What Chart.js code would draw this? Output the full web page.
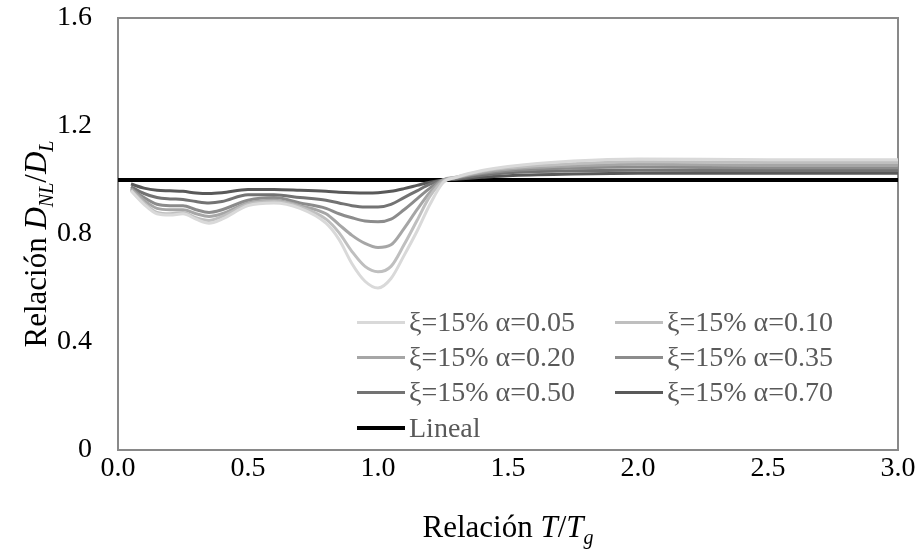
<!DOCTYPE html>
<html>
<head>
<meta charset="utf-8">
<script src="https://cdn.jsdelivr.net/npm/chart.js@4.4.1/dist/chart.umd.min.js"></script>
<style>
    html, body { margin: 0; padding: 0; background: #fff; }
    #wrap { position: relative; width: 924px; height: 556px; }
    #chart { position: absolute; left: 0; top: 0; }
    #legend { position: absolute; left: 0; top: 0; width: 924px; height: 556px; pointer-events: none;
              font-family: "Liberation Serif", "DejaVu Serif", serif; font-size: 28px; color: #595959; }
    .item { position: absolute; display: flex; align-items: center; white-space: nowrap; height: 34px; }
    .swatch { width: 48px; margin-right: 4px; }
</style>
</head>
<body>
<div id="wrap">
    <canvas id="chart" width="924" height="556"></canvas>
    <div id="legend"></div>
</div>
<script>
        // Data
        const periods = [0.05, 0.1, 0.15, 0.2, 0.25, 0.3, 0.35, 0.4, 0.5, 0.6, 0.7, 0.8, 0.85, 0.9, 0.95,
                         1.0, 1.05, 1.1, 1.15, 1.2, 1.25, 1.3, 1.4, 1.5, 1.75, 2.0, 2.5, 3.0];

        const alpha005 = [0.96, 0.91, 0.875, 0.87, 0.875, 0.855, 0.84, 0.855, 0.905, 0.915, 0.895, 0.84, 0.78, 0.69,
                          0.625, 0.60, 0.635, 0.72, 0.81, 0.91, 0.99, 1.01, 1.035, 1.05, 1.07, 1.078, 1.075, 1.075];
        const alpha010 = [0.962, 0.915, 0.88, 0.875, 0.88, 0.86, 0.85, 0.865, 0.91, 0.92, 0.90, 0.855, 0.805, 0.735,
                          0.68, 0.66, 0.68, 0.76, 0.85, 0.94, 0.995, 1.01, 1.032, 1.045, 1.06, 1.068, 1.065, 1.065];
        const alpha020 = [0.966, 0.925, 0.895, 0.89, 0.89, 0.875, 0.865, 0.875, 0.915, 0.925, 0.905, 0.875, 0.835, 0.795,
                          0.765, 0.75, 0.76, 0.82, 0.89, 0.955, 1.0, 1.01, 1.028, 1.04, 1.052, 1.058, 1.055, 1.055];
        const alpha035 = [0.97, 0.935, 0.91, 0.905, 0.905, 0.89, 0.88, 0.89, 0.925, 0.935, 0.915, 0.895, 0.875, 0.86,
                          0.848, 0.845, 0.855, 0.89, 0.93, 0.97, 1.0, 1.008, 1.024, 1.034, 1.044, 1.048, 1.045, 1.045];
        const alpha050 = [0.975, 0.95, 0.935, 0.93, 0.928, 0.92, 0.915, 0.92, 0.945, 0.945, 0.935, 0.925, 0.915, 0.905,
                          0.90, 0.90, 0.91, 0.935, 0.96, 0.985, 1.0, 1.005, 1.018, 1.027, 1.034, 1.036, 1.035, 1.035];
        const alpha070 = [0.985, 0.97, 0.962, 0.96, 0.958, 0.952, 0.95, 0.953, 0.965, 0.965, 0.962, 0.958, 0.955, 0.953,
                          0.952, 0.953, 0.958, 0.968, 0.98, 0.992, 1.0, 1.003, 1.01, 1.016, 1.022, 1.025, 1.025, 1.025];

        const linealX = [0, 3.0];
        const linealY = [1.0, 1.0];

        const seriesLabels = ['ξ=15% α=0.05', 'ξ=15% α=0.10', 'ξ=15% α=0.20',
                              'ξ=15% α=0.35', 'ξ=15% α=0.50', 'ξ=15% α=0.70', 'Lineal'];
        const seriesColors = ['#d9d9d9', '#bfbfbf', '#a6a6a6', '#8c8c8c', '#737373', '#595959', '#000000'];

        const xTickLabels = ['0.0', '0.5', '1.0', '1.5', '2.0', '2.5', '3.0'];
        const yTickLabels = ['0', '0.4', '0.8', '1.2', '1.6'];

        const FONT = '"Liberation Serif", "DejaVu Serif", serif';

        const toPoints = (xs, ys) => xs.map((x, i) => ({ x: x, y: ys[i] }));
        const seriesData = [alpha005, alpha010, alpha020, alpha035, alpha050, alpha070];

        const datasets = seriesData.map((ys, i) => ({
            label: seriesLabels[i],
            data: toPoints(periods, ys),
            borderColor: seriesColors[i],
            borderWidth: 3,
            pointRadius: 0,
            cubicInterpolationMode: 'monotone',
            fill: false
        }));
        datasets.push({
            label: seriesLabels[6],
            data: toPoints(linealX, linealY),
            borderColor: seriesColors[6],
            borderWidth: 4,
            pointRadius: 0,
            fill: false
        });

        // Draw text made of normal / italic / subscript pieces, centred on x
        function drawRich(ctx, parts, cx, baseline, size) {
            const fontFor = p => `${p.italic ? 'italic ' : ''}${p.sub ? Math.round(size * 0.65) : size}px ${FONT}`;
            let total = 0;
            parts.forEach(p => { ctx.font = fontFor(p); total += ctx.measureText(p.t).width; });
            let x = cx - total / 2;
            ctx.textAlign = 'left';
            ctx.textBaseline = 'alphabetic';
            parts.forEach(p => {
                ctx.font = fontFor(p);
                ctx.fillText(p.t, x, baseline + (p.sub ? size * 0.22 : 0));
                x += ctx.measureText(p.t).width;
            });
        }

        const framePlugin = {
            id: 'frame',
            beforeDatasetsDraw(chart) {
                const { ctx, chartArea: a } = chart;
                ctx.save();
                ctx.strokeStyle = '#898989';
                ctx.lineWidth = 2;
                ctx.strokeRect(a.left, a.top, a.right - a.left, a.bottom - a.top);
                ctx.restore();
            },
            afterDraw(chart) {
                const { ctx, chartArea: a } = chart;
                ctx.save();
                ctx.fillStyle = '#000';
                drawRich(ctx, [
                    { t: 'Relación ' }, { t: 'T', italic: true }, { t: '/' },
                    { t: 'T', italic: true }, { t: 'g', italic: true, sub: true }
                ], (a.left + a.right) / 2, 537, 31);
                ctx.translate(46, 244);
                ctx.rotate(-Math.PI / 2);
                drawRich(ctx, [
                    { t: 'Relación ' }, { t: 'D', italic: true }, { t: 'NL', italic: true, sub: true },
                    { t: '/' }, { t: 'D', italic: true }, { t: 'L', italic: true, sub: true }
                ], 0, 0, 31);
                ctx.restore();
            }
        };

        const ctx = document.getElementById('chart').getContext('2d');
        const chart = new Chart(ctx, {
            type: 'line',
            data: { datasets: datasets },
            options: {
                responsive: false,
                animation: false,
                layout: { padding: { top: 18, right: 26, left: 0, bottom: 0 } },
                plugins: {
                    legend: { display: false },
                    tooltip: { enabled: false }
                },
                scales: {
                    x: {
                        type: 'linear',
                        min: 0, max: 3,
                        afterFit: s => { s.height = 106; s.paddingLeft = 0; s.paddingRight = 0; },
                        grid: { display: false, drawTicks: false },
                        border: { display: false },
                        ticks: {
                            stepSize: 0.5,
                            padding: 2,
                            color: '#000',
                            font: { family: FONT, size: 28 },
                            callback: (v, i) => xTickLabels[i]
                        }
                    },
                    y: {
                        min: 0, max: 1.6,
                        afterFit: s => { s.width = 118; s.paddingTop = 0; s.paddingBottom = 0; },
                        grid: { display: false, drawTicks: false },
                        border: { display: false },
                        ticks: {
                            stepSize: 0.4,
                            padding: 26,
                            color: '#000',
                            font: { family: FONT, size: 28 },
                            callback: (v, i) => yTickLabels[i]
                        }
                    }
                }
            },
            plugins: [framePlugin]
        });

        // Legend inside the plot, two columns like the original
        const legend = document.getElementById('legend');
        const colX = [357, 615];
        const rowY = [322, 357, 392, 428];
        seriesLabels.forEach((label, i) => {
            const item = document.createElement('div');
            item.className = 'item';
            item.style.left = colX[i % 2] + 'px';
            item.style.top = (rowY[Math.floor(i / 2)] - 17) + 'px';
            const sw = document.createElement('span');
            sw.className = 'swatch';
            sw.style.borderTop = `${i === 6 ? 4 : 3}px solid ${seriesColors[i]}`;
            const txt = document.createElement('span');
            txt.textContent = label;
            item.appendChild(sw);
            item.appendChild(txt);
            legend.appendChild(item);
        });
</script>
</body>
</html>
